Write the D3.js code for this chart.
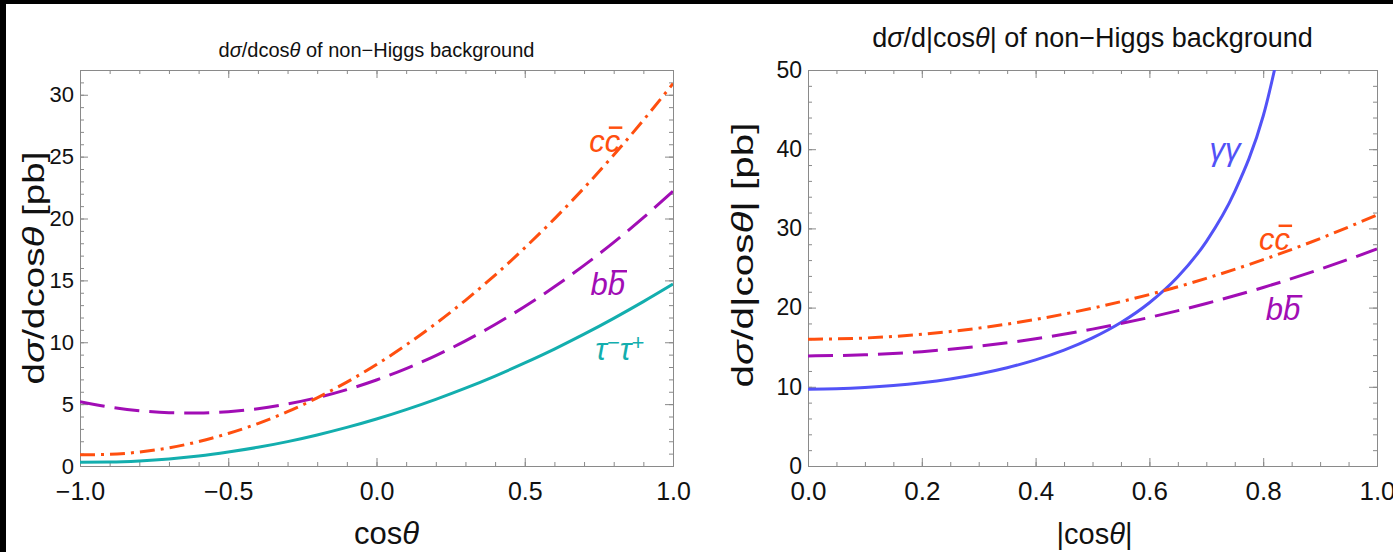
<!DOCTYPE html>
<html>
<head>
<meta charset="utf-8">
<script src="https://cdn.jsdelivr.net/npm/d3@7"></script>
<style>
  html, body { margin: 0; padding: 0; background: #fff; }
  svg { display: block; font-family: "Liberation Sans", Arial, sans-serif; }
</style>
</head>
<body>
<svg id="fig" width="1393" height="552"></svg>
<script>
// Left panel: dσ/dcosθ, sampled every 0.1 in cosθ
const cosLeft = [-1, -0.9, -0.8, -0.7, -0.6, -0.5, -0.4, -0.3, -0.2, -0.1, 0, 0.1, 0.2, 0.3, 0.4, 0.5, 0.6, 0.7, 0.8, 0.9, 1];
const ccLeft = [0.9, 0.94, 1.13, 1.47, 1.97, 2.63, 3.43, 4.39, 5.51, 6.78, 8.2, 9.78, 11.51, 13.39, 15.43, 17.63, 19.97, 22.47, 25.13, 27.94, 30.9];
const bbLeft = [5.2, 4.77, 4.47, 4.31, 4.28, 4.39, 4.63, 5.01, 5.52, 6.17, 6.95, 7.87, 8.92, 10.11, 11.43, 12.89, 14.48, 16.21, 18.07, 20.07, 22.2];
const tauLeft = [0.3, 0.32, 0.41, 0.57, 0.81, 1.13, 1.51, 1.97, 2.51, 3.12, 3.8, 4.56, 5.39, 6.29, 7.27, 8.33, 9.45, 10.65, 11.93, 13.28, 14.7];

// Right panel: dσ/d|cosθ|
const absCos = [0, 0.1, 0.2, 0.3, 0.4, 0.5, 0.6, 0.7, 0.8, 0.9, 1];
const ccRight = [16.0, 16.16, 16.63, 17.41, 18.51, 19.93, 21.65, 23.69, 26.05, 28.72, 31.7];
const bbRight = [13.9, 14.04, 14.44, 15.12, 16.06, 17.28, 18.76, 20.52, 22.54, 24.84, 27.4];
const absCosGG = [0, 0.05, 0.1, 0.15, 0.2, 0.25, 0.3, 0.35, 0.4, 0.45, 0.5, 0.55, 0.6, 0.65, 0.7, 0.75, 0.8, 0.85];
const ggRight = [9.7, 9.75, 9.9, 10.15, 10.51, 10.99, 11.62, 12.41, 13.4, 14.63, 16.17, 18.11, 20.61, 23.89, 28.34, 34.64, 44.19, 60.21];

const leftXTicks = [-1, -0.5, 0, 0.5, 1];
const leftYTicks = [0, 5, 10, 15, 20, 25, 30];
const rightXTicks = [0, 0.2, 0.4, 0.6, 0.8, 1];
const rightYTicks = [0, 10, 20, 30, 40, 50];

const color = { cc: '#ff4f0f', bb: '#a10db5', tau: '#13aeae', gg: '#5252f7' };
const dash = { cc: '15,6,3,6', bb: '25,10', solid: null };

const svg = d3.select('#fig');
svg.append('rect').attr('width', 1393).attr('height', 552).attr('fill', '#000');
svg.append('rect').attr('x', 6).attr('y', 4).attr('width', 1387).attr('height', 548).attr('fill', '#fff');

function panel(opt) {
  const g = svg.append('g').attr('transform', 'translate(' + opt.left + ',' + opt.top + ')');
  const w = opt.width, h = opt.height;
  const x = d3.scaleLinear().domain(opt.xDomain).range([0, w]);
  const y = d3.scaleLinear().domain(opt.yDomain).range([h, 0]);

  const styleAxis = size => ax => {
    ax.select('.domain').attr('stroke', '#8a8a8a');
    ax.selectAll('.tick line').attr('stroke', '#8a8a8a');
    ax.selectAll('text').attr('font-size', size).attr('fill', '#111')
      .attr('font-family', '"Liberation Sans", Arial, sans-serif');
  };
  const minorX = d3.range(opt.xDomain[0], opt.xDomain[1] + 1e-9, opt.xMinor);
  const minorY = d3.range(opt.yDomain[0], opt.yDomain[1] + 1e-9, opt.yMinor);

  // minor ticks on all four sides
  g.append('g').attr('transform', 'translate(0,' + h + ')')
    .call(d3.axisBottom(x).tickValues(minorX).tickSize(-4).tickFormat('')).call(styleAxis(0));
  g.append('g')
    .call(d3.axisTop(x).tickValues(minorX).tickSize(-4).tickFormat('')).call(styleAxis(0));
  g.append('g')
    .call(d3.axisLeft(y).tickValues(minorY).tickSize(-4).tickFormat('')).call(styleAxis(0));
  g.append('g').attr('transform', 'translate(' + w + ',0)')
    .call(d3.axisRight(y).tickValues(minorY).tickSize(-4).tickFormat('')).call(styleAxis(0));

  // major ticks
  g.append('g').attr('transform', 'translate(0,' + h + ')')
    .call(d3.axisBottom(x).tickValues(opt.xTicks).tickSize(-8).tickPadding(16).tickFormat(d3.format('.1f')))
    .call(styleAxis(opt.xTickFont))
    .call(ax => ax.selectAll('text').text(d => d3.format('.1f')(d).replace('-', '\u2212')));
  g.append('g')
    .call(d3.axisTop(x).tickValues(opt.xTicks).tickSize(-8).tickFormat('')).call(styleAxis(0));
  g.append('g')
    .call(d3.axisLeft(y).tickValues(opt.yTicks).tickSize(-8).tickPadding(6).tickFormat(d3.format('d')))
    .call(styleAxis(opt.yTickFont));
  g.append('g').attr('transform', 'translate(' + w + ',0)')
    .call(d3.axisRight(y).tickValues(opt.yTicks).tickSize(-8).tickFormat('')).call(styleAxis(0));

  const clipId = 'clip' + opt.left;
  g.append('clipPath').attr('id', clipId)
    .append('rect').attr('width', w).attr('height', h);
  const plot = g.append('g').attr('clip-path', 'url(#' + clipId + ')');

  opt.series.forEach(s => {
    const line = d3.line().curve(d3.curveMonotoneX)
      .x((d, i) => x(s.xs[i])).y(d => y(d));
    plot.append('path').attr('d', line(s.ys))
      .attr('fill', 'none').attr('stroke', s.color).attr('stroke-width', 3)
      .attr('stroke-dasharray', s.dash);
  });

  // title
  const t = svg.append('text').attr('x', opt.left + w / 2).attr('y', opt.titleY)
    .attr('text-anchor', 'middle').attr('font-size', opt.titleFont).attr('fill', '#111');
  opt.title.forEach(p => t.append('tspan').attr('font-style', p[1] ? 'italic' : 'normal').text(p[0]));

  // x label
  const xl = svg.append('text').attr('x', opt.left + w / 2 + opt.xLabelShift).attr('y', opt.top + h + 78)
    .attr('text-anchor', 'middle').attr('font-size', opt.xLabelFont).attr('fill', '#111');
  opt.xLabel.forEach(p => xl.append('tspan').attr('font-style', p[1] ? 'italic' : 'normal').text(p[0]));

  // y label (stretched along the axis like the reference)
  const yl = svg.append('text')
    .attr('transform', 'translate(' + (opt.left - opt.yLabelOffset) + ',' + opt.yLabelCenter + ') rotate(-90)')
    .attr('text-anchor', 'middle').attr('font-size', 29).attr('fill', '#111')
    .attr('textLength', opt.yLabelLength).attr('lengthAdjust', 'spacingAndGlyphs');
  opt.yLabel.forEach(p => yl.append('tspan').attr('font-style', p[1] ? 'italic' : 'normal').text(p[0]));

  // curve labels (barred letters get an explicit overline)
  opt.labels.forEach(l => {
    const tx = g.append('text').attr('x', x(l.x)).attr('y', y(l.y))
      .attr('text-anchor', 'middle').attr('font-size', 31).attr('font-style', 'italic').attr('fill', l.color);
    let idx = 0;
    const bars = [];
    l.parts.forEach(p => {
      const ts = tx.append('tspan').text(p.t);
      if (p.sup) ts.attr('font-size', 22).attr('baseline-shift', '45%');
      if (p.bar) bars.push(idx);
      idx += p.t.length;
    });
    bars.forEach(i => {
      const ext = tx.node().getExtentOfChar(i);
      g.append('line')
        .attr('x1', ext.x + 4).attr('x2', ext.x + ext.width + 2)
        .attr('y1', ext.y + 4).attr('y2', ext.y + 4)
        .attr('stroke', l.color).attr('stroke-width', 2.5);
    });
  });
}

panel({
  left: 80, top: 70, width: 593, height: 396,
  xDomain: [-1, 1], yDomain: [0, 32], xMinor: 0.1, yMinor: 1,
  xTicks: leftXTicks, yTicks: leftYTicks, titleY: 57,
  titleFont: 20, xTickFont: 25, yTickFont: 22, xLabelFont: 31, xLabelShift: 10,
  yLabelOffset: 36, yLabelCenter: 268, yLabelLength: 233,
  title: [['d'], ['\u03c3', 1], ['/dcos'], ['\u03b8', 1], [' of non\u2212Higgs background']],
  xLabel: [['cos'], ['\u03b8', 1]],
  yLabel: [['d'], ['\u03c3', 1], ['/dcos'], ['\u03b8', 1], [' [pb]']],
  series: [
    { xs: cosLeft, ys: tauLeft, color: color.tau, dash: dash.solid },
    { xs: cosLeft, ys: bbLeft, color: color.bb, dash: dash.bb },
    { xs: cosLeft, ys: ccLeft, color: color.cc, dash: dash.cc }
  ],
  labels: [
    { x: 0.77, y: 25.4, color: color.cc, parts: [{ t: 'c' }, { t: 'c', bar: true }] },
    { x: 0.78, y: 13.8, color: color.bb, parts: [{ t: 'b' }, { t: 'b', bar: true }] },
    { x: 0.82, y: 8.6, color: color.tau, parts: [{ t: '\u03c4' }, { t: '\u2212', sup: true }, { t: '\u03c4' }, { t: '+', sup: true }] }
  ]
});

panel({
  left: 808, top: 70, width: 569, height: 396,
  xDomain: [0, 1], yDomain: [0, 50], xMinor: 0.05, yMinor: 2,
  xTicks: rightXTicks, yTicks: rightYTicks, titleY: 47,
  titleFont: 27, xTickFont: 26, yTickFont: 23, xLabelFont: 29, xLabelShift: 2,
  yLabelOffset: 55, yLabelCenter: 255, yLabelLength: 265,
  title: [['d'], ['\u03c3', 1], ['/d|cos'], ['\u03b8', 1], ['| of non\u2212Higgs background']],
  xLabel: [['|cos'], ['\u03b8', 1], ['|']],
  yLabel: [['d'], ['\u03c3', 1], ['/d|cos'], ['\u03b8', 1], ['| [pb]']],
  series: [
    { xs: absCosGG, ys: ggRight, color: color.gg, dash: dash.solid },
    { xs: absCos, ys: bbRight, color: color.bb, dash: dash.bb },
    { xs: absCos, ys: ccRight, color: color.cc, dash: dash.cc }
  ],
  labels: [
    { x: 0.733, y: 38.6, color: color.gg, parts: [{ t: '\u03b3\u03b3' }] },
    { x: 0.82, y: 27.3, color: color.cc, parts: [{ t: 'c' }, { t: 'c', bar: true }] },
    { x: 0.835, y: 18.4, color: color.bb, parts: [{ t: 'b' }, { t: 'b', bar: true }] }
  ]
});
</script>
</body>
</html>
